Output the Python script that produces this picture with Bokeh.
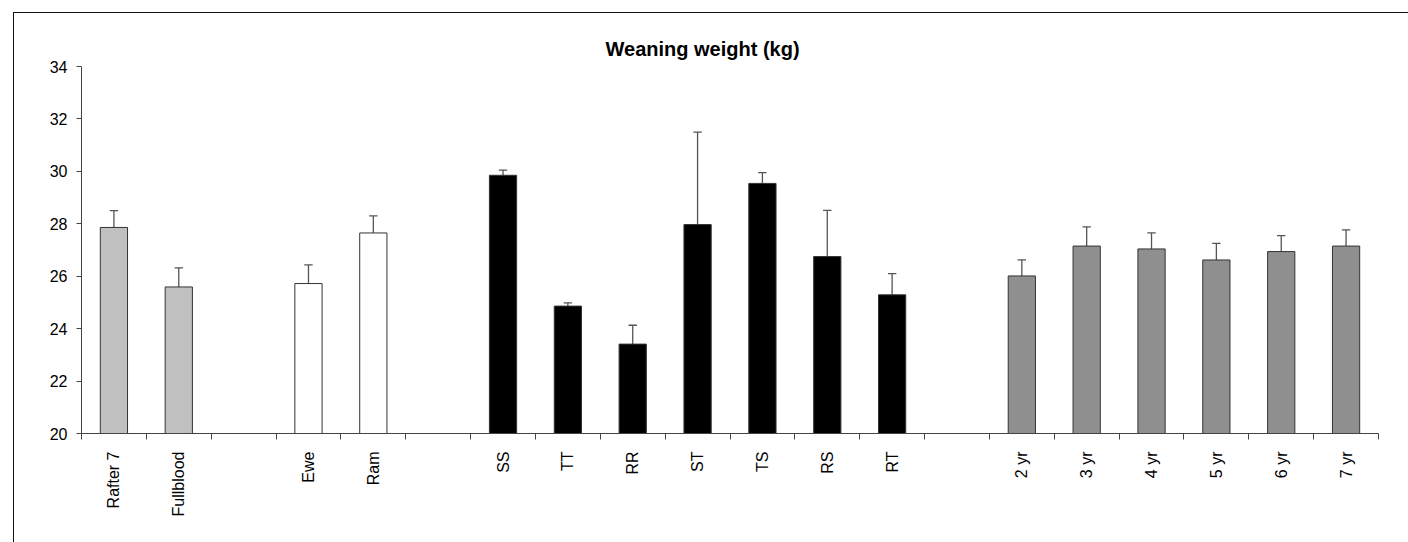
from bokeh.plotting import figure
from bokeh.models import Range1d, FixedTicker
from bokeh.embed import file_html
from bokeh.resources import INLINE

# slot labels (blank slots separate the groups)
slots = ["Rafter 7", "Fullblood", "", "Ewe", "Ram", "", "SS", "TT", "RR", "ST", "TS", "RS", "RT", "",
         "2 yr", "3 yr", "4 yr", "5 yr", "6 yr", "7 yr"]

breed_cats = ["Rafter 7", "Fullblood"]
breed_vals = [27.86, 25.59]
breed_err = [28.50, 26.32]

sex_cats = ["Ewe", "Ram"]
sex_vals = [25.72, 27.65]
sex_err = [26.43, 28.30]

geno_cats = ["SS", "TT", "RR", "ST", "TS", "RS", "RT"]
geno_vals = [29.85, 24.86, 23.41, 27.97, 29.54, 26.75, 25.29]
geno_err = [30.05, 24.98, 24.13, 31.50, 29.95, 28.51, 26.10]

age_cats = ["2 yr", "3 yr", "4 yr", "5 yr", "6 yr", "7 yr"]
age_vals = [26.01, 27.15, 27.04, 26.62, 26.94, 27.15]
age_err = [26.62, 27.88, 27.65, 27.25, 27.55, 27.77]

y_ticks = [20, 22, 24, 26, 28, 30, 32, 34]

p = figure(width=1395, height=530, output_backend="svg", toolbar_location=None,
           x_range=Range1d(0, len(slots)), y_range=Range1d(20, 34),
           min_border_left=67, min_border_right=31, min_border_top=53, min_border_bottom=110)
p.margin = (12, 0, 0, 13)
p.styles = {"border-left": "1.5px solid #111", "border-top": "1.5px solid #111"}
p.outline_line_color = None
p.grid.visible = False
p.background_fill_color = "white"
p.border_fill_color = "white"

p.title.text = "Weaning weight (kg)"
p.title.align = "left"
p.title.offset = 524
p.title.standoff = 13
p.title.text_font = "Liberation Sans"
p.title.text_font_size = "20px"
p.title.text_font_style = "bold"
p.title.text_color = "#000000"

def pos(cats):
    return [slots.index(c) + 0.5 for c in cats]

groups = [
    (breed_cats, breed_vals, breed_err, "#C0C0C0"),
    (sex_cats, sex_vals, sex_err, "#FFFFFF"),
    (geno_cats, geno_vals, geno_err, "#000000"),
    (age_cats, age_vals, age_err, "#8F8F8F"),
]
cap = 0.065
for cats, vals, errs, col in groups:
    xs = pos(cats)
    p.segment(x0=xs, y0=vals, x1=xs, y1=errs, line_color="#555555", line_width=1.3)
    p.segment(x0=[x - cap for x in xs], y0=errs, x1=[x + cap for x in xs], y1=errs,
              line_color="#555555", line_width=1.3)
    p.vbar(x=xs, top=vals, bottom=20, width=0.42, fill_color=col, line_color="#333333", line_width=1)

# axes
xa = p.xaxis[0]
centers = [i + 0.5 for i in range(len(slots))]
xa.ticker = FixedTicker(ticks=centers, minor_ticks=list(range(len(slots) + 1)))
xa.major_label_overrides = {c: s for c, s in zip(centers, slots)}
xa.major_tick_out = 0
xa.major_tick_in = 0
xa.minor_tick_out = 6
xa.minor_tick_in = 0
xa.minor_tick_line_color = "#444444"
xa.axis_line_color = "#444444"
xa.major_label_orientation = 1.5708
xa.major_label_standoff = 12
xa.major_label_text_font = "Liberation Sans"
xa.major_label_text_font_size = "16px"
xa.major_label_text_color = "#000000"

ya = p.yaxis[0]
ya.ticker = FixedTicker(ticks=y_ticks)
ya.major_tick_out = 5
ya.major_tick_in = 0
ya.minor_tick_line_color = None
ya.axis_line_color = "#444444"
ya.major_tick_line_color = "#444444"
ya.major_label_standoff = 9
ya.major_label_text_font = "Liberation Sans"
ya.major_label_text_font_size = "16px"
ya.major_label_text_color = "#000000"

open("out.html", "w").write(file_html(p, INLINE))
